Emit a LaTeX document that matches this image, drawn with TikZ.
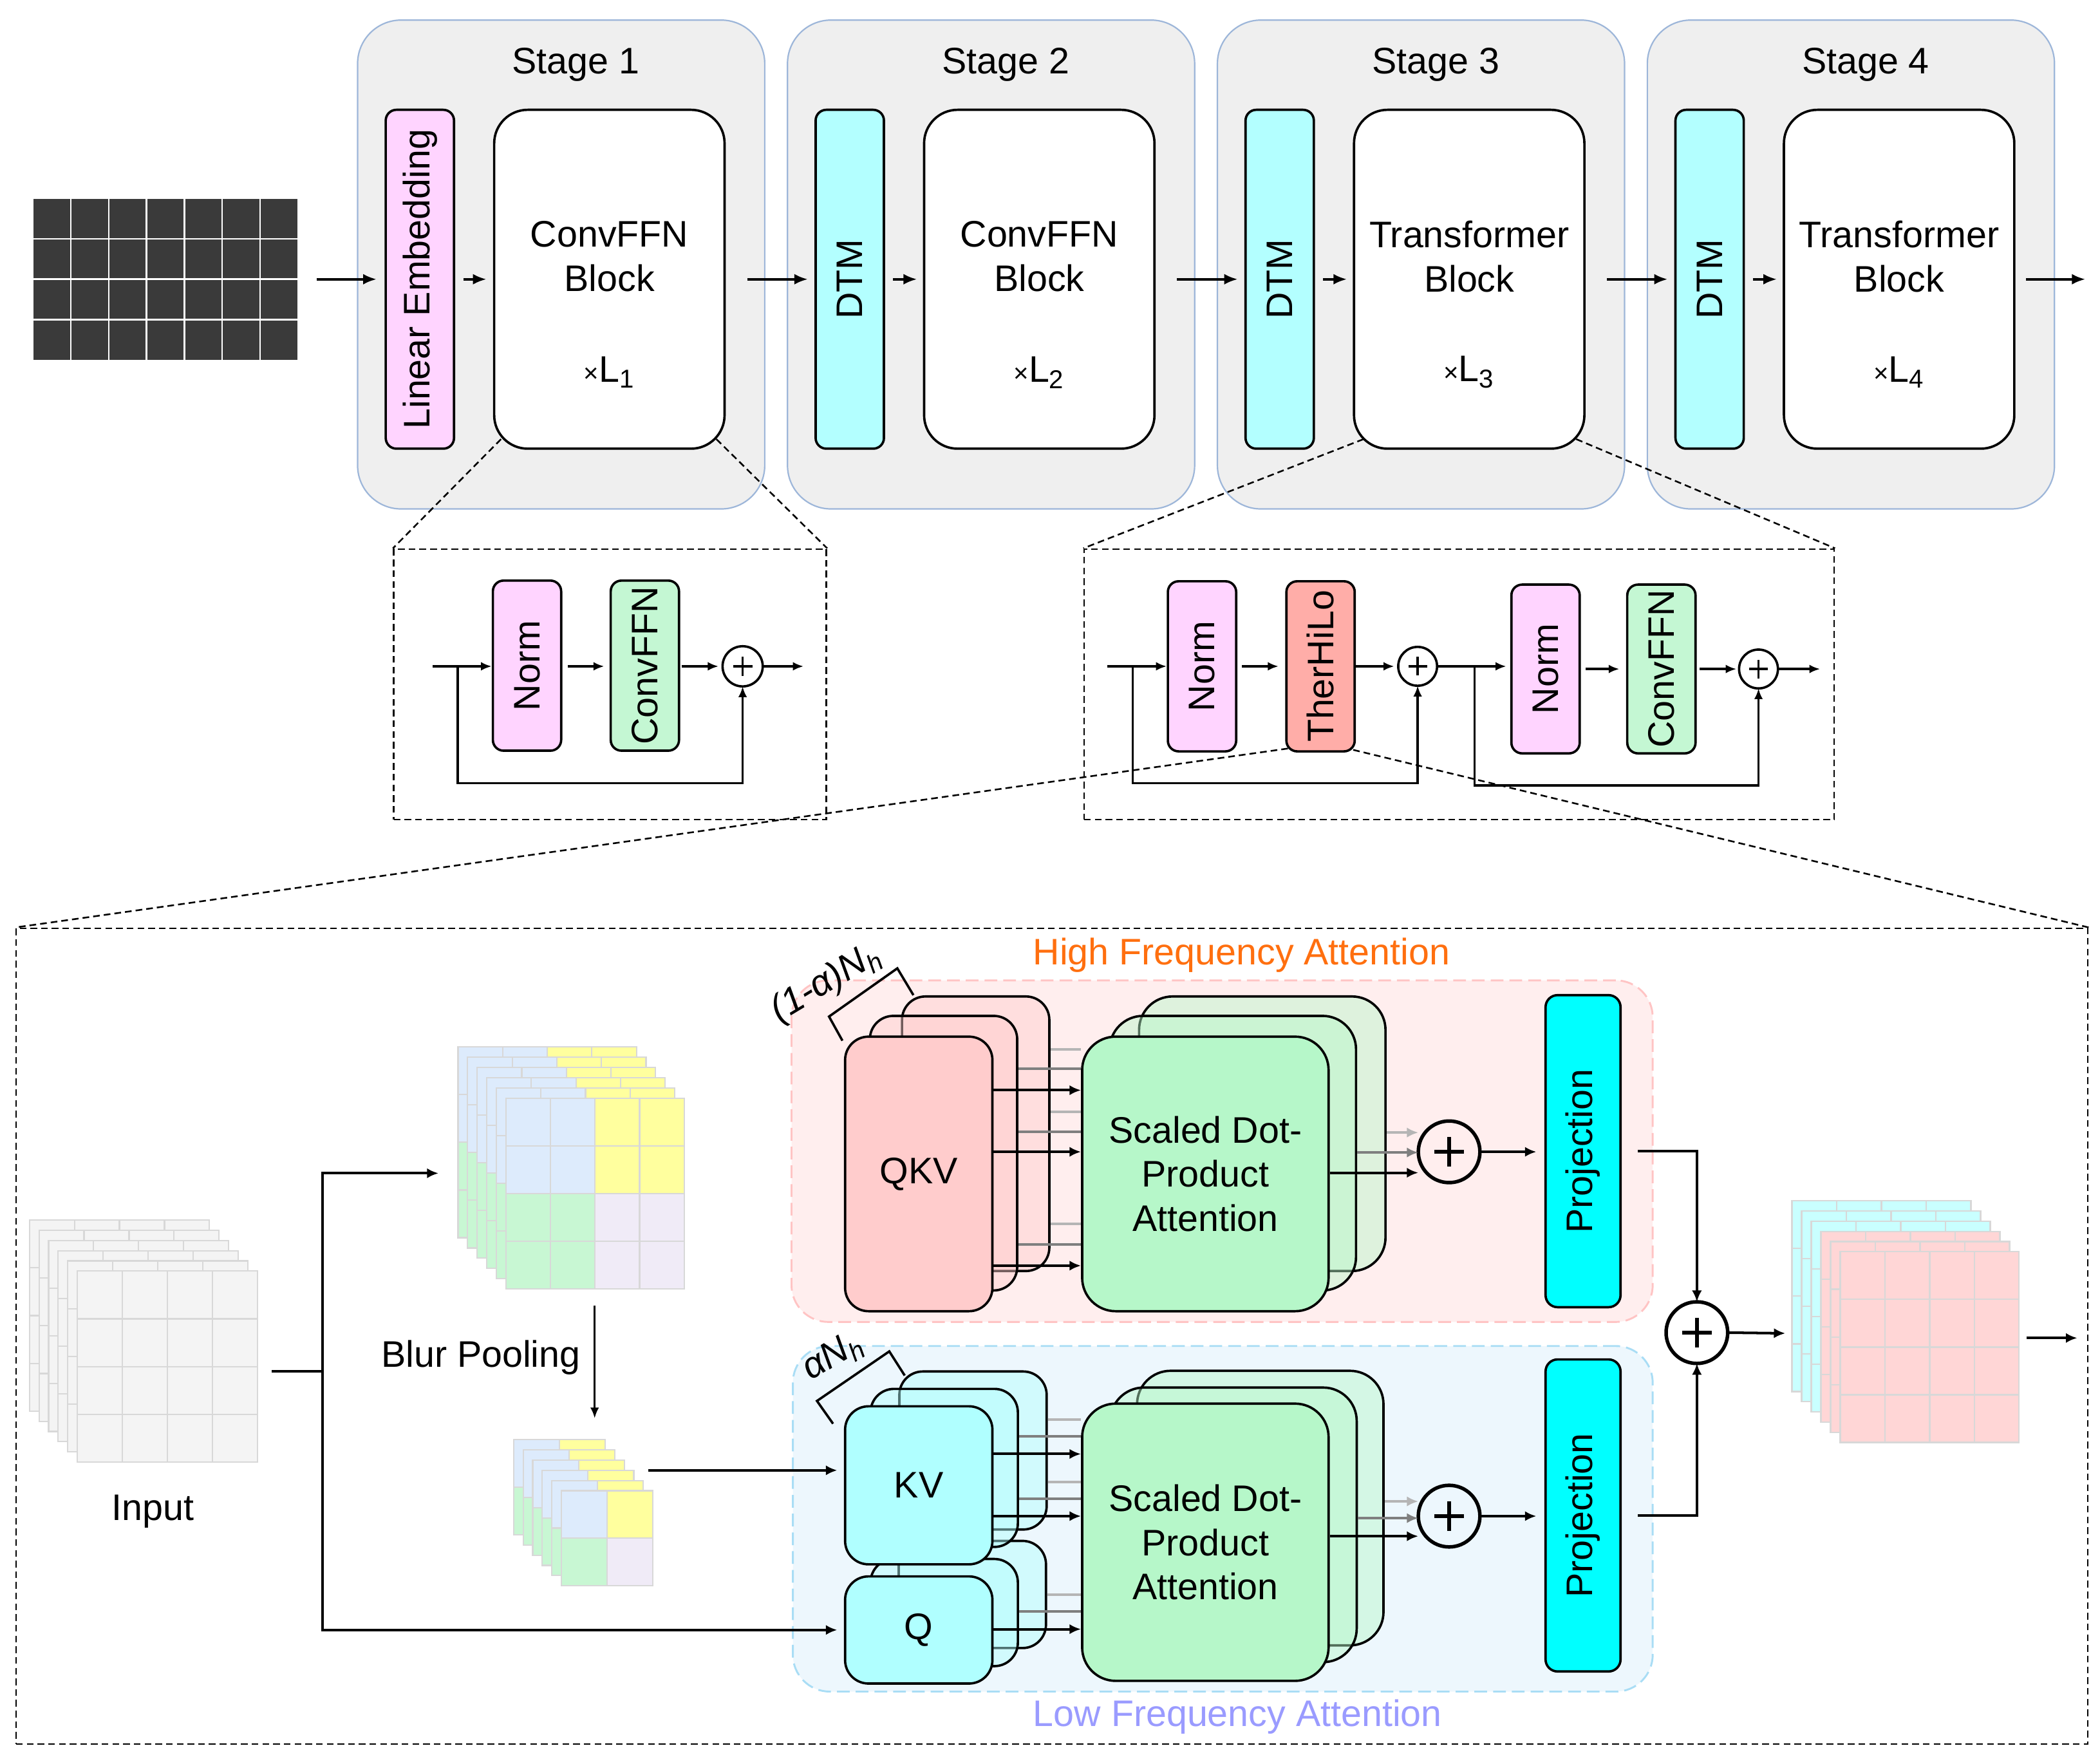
\documentclass[tikz,border=0pt]{standalone}
\usepackage{fontspec}
\setmainfont{Liberation Sans}
\usepackage{graphicx}
\usetikzlibrary{arrows.meta,calc}

\definecolor{imgdark}{HTML}{3A3A3A}
\definecolor{stagefill}{HTML}{EFEFEF}
\definecolor{stageline}{HTML}{9DB6D9}
\definecolor{pinkbox}{HTML}{FFD4FF}
\definecolor{dtmc}{HTML}{B3FFFF}
\definecolor{ffnc}{HTML}{C4F7D3}
\definecolor{hiloc}{HTML}{FFADA8}
\definecolor{hffill}{HTML}{FFEEEE}
\definecolor{hfline}{HTML}{FFC4C4}
\definecolor{lffill}{HTML}{EDF7FD}
\definecolor{lfline}{HTML}{A9DDF5}
\definecolor{hforange}{HTML}{FF6F0F}
\definecolor{lfblue}{HTML}{9A9BFF}
\definecolor{qkvc}{HTML}{FFCCCC}
\definecolor{kvc}{HTML}{B0FFFF}
\definecolor{sdc}{HTML}{B6F7C9}
\definecolor{projc}{HTML}{00FFFF}
\definecolor{gridline}{HTML}{D8D8D8}
\definecolor{inc}{HTML}{F4F4F4}
\definecolor{qTL}{HTML}{DDEBFC}
\definecolor{qTR}{HTML}{FFFF9E}
\definecolor{qBL}{HTML}{C8F7D3}
\definecolor{qBR}{HTML}{F0EBF7}
\definecolor{oc}{HTML}{C9FFFF}
\definecolor{op}{HTML}{FFD6D6}
\definecolor{gmidc}{HTML}{7F7F7F}
\definecolor{glightc}{HTML}{B5B5B5}

\tikzset{
  sz/.style 2 args={minimum width=#1*0.02cm, minimum height=#2*0.02cm},
  stagebox/.style={draw=stageline, fill=stagefill, rounded corners=0.65cm, line width=0.6pt, inner sep=0pt},
  thinbox/.style={draw=black, line width=1pt, rounded corners=0.16cm, inner sep=0pt},
  bigblock/.style={draw=black, line width=1pt, rounded corners=0.5cm, fill=white, inner sep=0pt},
  qbox/.style={draw=black, line width=1pt, rounded corners=0.35cm, inner sep=0pt},
  sbox/.style={draw=black, line width=1pt, rounded corners=0.5cm, inner sep=0pt, align=center},
  pbox/.style={draw=black, line width=1pt, rounded corners=0.18cm, inner sep=0pt, fill=projc},
  back/.style={fill opacity=0.45},
  arr/.style={-{Latex[length=0.2cm,width=0.16cm]}, line width=1pt},
  arrS/.style={-{Latex[length=0.16cm,width=0.13cm]}, line width=0.9pt},
  arrB/.style={-{Latex[length=0.17cm,width=0.15cm]}, line width=1.1pt},
  gmid/.style={line width=1.1pt, draw=gmidc},
  glight/.style={line width=1.1pt, draw=glightc},
  garrm/.style={-{Latex[length=0.17cm,width=0.15cm]}, line width=1.1pt, draw=gmidc, fill=gmidc},
  garrl/.style={-{Latex[length=0.17cm,width=0.15cm]}, line width=1.1pt, draw=glightc, fill=glightc},
  ln/.style={line width=1.1pt},
  zbox/.style={draw=black, line width=0.7pt, dash pattern=on 0.1cm off 0.06cm, inner sep=0pt},
  zoomline/.style={line width=0.7pt, dash pattern=on 0.1cm off 0.06cm},
  hfbox/.style={fill=hffill, draw=hfline, line width=0.8pt, dash pattern=on 0.19cm off 0.09cm, rounded corners=0.55cm, inner sep=0pt},
  lfbox/.style={fill=lffill, draw=lfline, line width=0.8pt, dash pattern=on 0.19cm off 0.09cm, rounded corners=0.55cm, inner sep=0pt},
  plusc/.style 2 args={circle, draw, line width=#2, minimum size=#1*0.02cm, inner sep=0pt, outer sep=0pt,
    path picture={\draw[line width=#2]
      ($(path picture bounding box.west)!0.26!(path picture bounding box.east)$) --
      ($(path picture bounding box.west)!0.74!(path picture bounding box.east)$)
      ($(path picture bounding box.north)!0.26!(path picture bounding box.south)$) --
      ($(path picture bounding box.north)!0.74!(path picture bounding box.south)$);}},
}

% one layer of a grid stack: x, y (top-left), cell w, cell h, n, TL, TR, BL, BR
\newcommand\glayer[9]{%
  \pgfmathtruncatemacro\ghalf{#5/2}%
  \foreach \gi in {1,...,#5}{\foreach \gj in {1,...,#5}{%
    \ifnum\gj>\ghalf\relax
      \ifnum\gi>\ghalf\relax\def\gc{#9}\else\def\gc{#8}\fi
    \else
      \ifnum\gi>\ghalf\relax\def\gc{#7}\else\def\gc{#6}\fi
    \fi
    \filldraw[fill=\gc, draw=gridline, line width=0.6pt]
      ({#1+(\gi-1)*#3},{#2+(\gj-1)*#4}) rectangle ++(#3,#4);
  }}%
}

\begin{document}
\begin{tikzpicture}[x=0.02cm, y=-0.02cm, font=\fontsize{15.7}{18.8}\selectfont]
\useasboundingbox (0,0) rectangle (1568,1317);

% ---------------- top row ----------------
\node[fill=imgdark, sz={197}{120}, inner sep=0pt] (img) at (123.5,208.5) {};
\foreach \k in {1,...,6}
  \draw[white, line width=0.7pt] ($(img.north west)!\k/7!(img.north east)$) -- ($(img.south west)!\k/7!(img.south east)$);
\foreach \k in {1,2,3}
  \draw[white, line width=0.7pt] ($(img.north west)!\k/4!(img.south west)$) -- ($(img.north east)!\k/4!(img.south east)$);

\foreach \s/\sx/\t/\n in {1/267/ConvFFN/1, 2/588/ConvFFN/2, 3/909/Transformer/3, 4/1230/Transformer/4} {
  \node[stagebox, sz={304}{365}] (st\s) at ({\sx+152},197.5) {};
  \node (stl\s) at ({\sx+163},48.5) {Stage \s};
  \node[bigblock, sz={172}{253}] (blk\s) at ({\sx+188},208.5) {};
  \node[align=center] (blt\s) at ({\sx+188},191.5) {\t\\Block};
  \node (bll\s) at ({\sx+188},278) {{\fontsize{11}{12}\selectfont ×}L\textsubscript{\n}};
}
\node[thinbox, fill=pinkbox, sz={51}{253}] (lin) at (313.5,208.5) {\rotatebox{90}{Linear Embedding}};
\foreach \s/\sx in {2/588,3/909,4/1230}{
  \node[thinbox, fill=dtmc, sz={51}{253}] (dtm\s) at ({\sx+46.5},208.5) {\rotatebox{90}{DTM}};
}

\draw[arr, shorten <=0.28cm, shorten >=0.12cm] (img.east) -- (lin.west);
\draw[arr, shorten <=0.12cm, shorten >=0.1cm] (lin.east) -- (blk1.west);
\foreach \s in {2,3,4}{
  \draw[arr, shorten <=0.12cm, shorten >=0.09cm] (dtm\s.east) -- (blk\s.west);
}
\draw[arr, shorten <=0.32cm, shorten >=0.1cm] (blk1.east) -- (dtm2.west);
\draw[arr, shorten <=0.32cm, shorten >=0.1cm] (blk2.east) -- (dtm3.west);
\draw[arr, shorten <=0.32cm, shorten >=0.1cm] (blk3.east) -- (dtm4.west);
\coordinate (outTop) at (1557,208.5);
\draw[arr, shorten <=0.16cm] (blk4.east) -- (outTop);

% ---------------- zoom box 1 (ConvFFN block) ----------------
\node[zbox, sz={323}{202}] (zb1) at (455.5,511) {};
\draw[zoomline] ([shift={(6,-8)}]blk1.south west) -- (zb1.north west);
\draw[zoomline] ([shift={(-7,-8)}]blk1.south east) -- (zb1.north east);
\node[thinbox, fill=pinkbox, sz={51}{127}] (n1) at (393.5,497) {\rotatebox{90}{Norm}};
\node[thinbox, fill=ffnc, sz={51}{127}] (c1) at (481.5,497) {\rotatebox{90}{ConvFFN}};
\node[plusc={30}{1pt}] (p1) at (554.5,497.5) {};
\coordinate (i1) at (323,497.5);
\coordinate (br1) at (341.7,497.5);
\coordinate (o1) at (600,497.5);
\draw[arrS] (i1) -- (i1 -| n1.west);
\draw[arrS, shorten <=0.08cm, shorten >=0.08cm] (n1.east |- i1) -- (c1.west |- i1);
\draw[arrS, shorten <=0.02cm, shorten >=0.06cm] (c1.east |- i1) -- (p1.west);
\draw[arrS] (p1.east) -- (o1);
\draw[arrS] (br1) -- ++(0,87.3) -| (p1.south);

% ---------------- zoom box 2 (Transformer block) ----------------
\node[zbox, sz={560}{202}] (zb2) at (1089.5,511) {};
\draw[zoomline] ([shift={(8,-8)}]blk3.south west) -- (zb2.north west);
\draw[zoomline] ([shift={(-7,-8)}]blk3.south east) -- (zb2.north east);
\node[thinbox, fill=pinkbox, sz={51}{127}] (n2) at (897.5,497.5) {\rotatebox{90}{Norm}};
\node[thinbox, fill=hiloc, sz={51}{127}] (th) at (986,497.5) {\rotatebox{90}{TherHiLo}};
\node[plusc={29}{1pt}] (p2) at (1058.5,497.5) {};
\node[thinbox, fill=pinkbox, sz={51}{126}] (n3) at (1154,499.5) {\rotatebox{90}{Norm}};
\node[thinbox, fill=ffnc, sz={51}{126}] (c3) at (1240.5,499.5) {\rotatebox{90}{ConvFFN}};
\node[plusc={29}{1pt}] (p3) at (1313,499.5) {};
\coordinate (i2) at (826.6,497.5);
\coordinate (br2) at (845.7,497.5);
\coordinate (br3) at (1101,497.5);
\coordinate (o2) at (1359,499.5);
\draw[arrS] (i2) -- (i2 -| n2.west);
\draw[arrS, shorten <=0.07cm, shorten >=0.1cm] (n2.east) -- (th.west);
\draw[arrS, shorten <=0.0cm, shorten >=0.06cm] (th.east) -- (p2.west);
\draw[arrS, shorten >=0.06cm] (p2.east) -- (p2.east -| n3.west);
\draw[arrS, shorten <=0.07cm, shorten >=0.1cm] (n3.east) -- (c3.west);
\draw[arrS, shorten <=0.04cm, shorten >=0.04cm] (c3.east) -- (p3.west);
\draw[arrS] (p3.east) -- (o2);
\draw[arrS] (br2) -- ++(0,87.3) -| (p2.south);
\draw[arrS] (br3) -- ++(0,88.9) -| (p3.south);

% ---------------- big zoom box (TherHiLo) ----------------
\node[zbox, line width=0.6pt, sz={1547}{609}] (zb3) at (785.5,997.5) {};
\draw[zoomline] ([shift={(2,-3)}]th.south west) -- (zb3.north west);
\draw[zoomline] ([shift={(-2,-2)}]th.south east) -- (zb3.north east);

% regions
\node[hfbox, sz={643}{255}] (hf) at (912.5,859.5) {};
\node[lfbox, sz={642}{258}] (lf) at (913,1134) {};
\node[text=hforange] (hft) at (927,713) {High Frequency Attention};
\node[text=lfblue] (lft) at (924,1282) {Low Frequency Attention};

% input stack
\foreach \k in {0,...,5}{
  \glayer{22+\k*7.14}{911+\k*7.6}{33.6}{35.65}{4}{inc}{inc}{inc}{inc}
}
\node (inl) at (114,1128.5) {Input};
% pooled-window stack
\foreach \k in {0,...,5}{
  \glayer{342+\k*7.14}{781.7+\k*7.66}{33.3}{35.6}{4}{qTL}{qTR}{qBL}{qBR}
}
% blurred small stack
\foreach \k in {0,...,5}{
  \glayer{383.6+\k*7.08}{1075+\k*7.6}{34.2}{35.5}{2}{qTL}{qTR}{qBL}{qBR}
}
% output stack
\foreach \k/\c in {0/oc,1/oc,2/oc,3/op,4/op,5/op}{
  \glayer{1338+\k*7.2}{896.6+\k*7.6}{33.4}{35.6}{4}{\c}{\c}{\c}{\c}
}

% HF heads
\node[qbox, back, fill=qkvc, sz={110}{205}] (qkvB) at (728.5,846.5) {};
\node[qbox, back, fill=qkvc, sz={110}{205}] (qkvM) at (704.5,861) {};
\node[qbox, fill=qkvc, sz={110}{205}] (qkvF) at (686,876.5) {QKV};
\node[sbox, back, fill=sdc, sz={184}{205}] (sdB) at (942.5,846.5) {};
\node[sbox, back, fill=sdc, sz={184}{205}] (sdM) at (920.5,861) {};
\node[sbox, fill=sdc, sz={184}{205}] (sdF) at (900,876.5) {Scaled Dot-\\Product\\Attention};

% LF heads
\node[qbox, back, fill=kvc, sz={110}{80}] (qB) at (726,1190.5) {};
\node[qbox, back, fill=kvc, sz={110}{80}] (qM) at (705,1204) {};
\node[qbox, back, fill=kvc, sz={110}{118}] (kvB) at (726.5,1083) {};
\node[qbox, back, fill=kvc, sz={110}{118}] (kvM) at (705,1096) {};
\node[qbox, fill=kvc, sz={110}{118}] (kvF) at (686,1109) {KV};
\node[qbox, fill=kvc, sz={110}{80}] (qF) at (686,1217) {Q};
\node[sbox, back, fill=sdc, sz={184}{205}] (sdB2) at (941,1126) {};
\node[sbox, back, fill=sdc, sz={184}{205}] (sdM2) at (921,1138.5) {};
\node[sbox, fill=sdc, sz={184}{207}] (sdF2) at (900,1151.5) {Scaled Dot-\\Product\\Attention};

% projections and sums
\node[pbox, sz={56}{233}] (prH) at (1182,859.5) {\rotatebox{90}{Projection}};
\node[pbox, sz={56}{233}] (prL) at (1182,1131.5) {\rotatebox{90}{Projection}};
\node[plusc={46}{1.5pt}] (pH) at (1082,860) {};
\node[plusc={46}{1.5pt}] (pL) at (1082,1132) {};
\node[plusc={46}{1.5pt}] (pO) at (1267,995) {};

% head connectors HF
\foreach \y in {783.5,830,914}{\draw[glight] (qkvB.east |- 0,\y) -- (sdF.west |- 0,\y);}
\foreach \y in {798,845,929}{\draw[gmid] (qkvM.east |- 0,\y) -- (sdF.west |- 0,\y);}
\foreach \y in {814,860,945}{\draw[arrB] (qkvF.east |- 0,\y) -- (sdF.west |- 0,\y);}
\draw[garrl] (sdB.east |- 0,845.6) -- (pH.west |- 0,845.6);
\draw[garrm] (sdM.east |- 0,860.5) -- (pH.west |- 0,860.5);
\draw[arrB] (sdF.east |- 0,875.6) -- (pH.west |- 0,875.6);
\draw[arrB, shorten <=0.02cm, shorten >=0.12cm] (pH.east) -- (prH.west |- pH.east);

% head connectors LF
\foreach \y in {1060,1106.5}{\draw[glight] (kvB.east |- 0,\y) -- (sdF2.west |- 0,\y);}
\foreach \y in {1072.5,1119}{\draw[gmid] (kvM.east |- 0,\y) -- (sdF2.west |- 0,\y);}
\foreach \y in {1085.6,1132}{\draw[arrB] (kvF.east |- 0,\y) -- (sdF2.west |- 0,\y);}
\draw[glight] (qB.east |- 0,1190.7) -- (sdF2.west |- 0,1190.7);
\draw[gmid] (qM.east |- 0,1203) -- (sdF2.west |- 0,1203);
\draw[arrB] (qF.east |- 0,1216.4) -- (sdF2.west |- 0,1216.4);
\draw[garrl] (sdB2.east |- 0,1121) -- (pL.west |- 0,1121);
\draw[garrm] (sdM2.east |- 0,1133.5) -- (pL.west |- 0,1133.5);
\draw[arrB] (sdF2.east |- 0,1147) -- (pL.west |- 0,1147);
\draw[arrB, shorten <=0.02cm, shorten >=0.12cm] (pL.east) -- (prL.west |- pL.east);

% brackets
\draw[line width=1pt] (629,777) -- (619,759) -- (670,723) -- (682,743);
\node[rotate=31, font=\fontsize{15.7}{18.8}\selectfont\itshape] (hlab) at (617,734) {(1-α)N\textsubscript{h}};
\draw[line width=1pt] (622,1063) -- (610,1046) -- (664,1009) -- (675.5,1027);
\node[rotate=31, font=\fontsize{15.7}{18.8}\selectfont\itshape] (llab) at (622,1013) {αN\textsubscript{h}};

% input routing
\coordinate (inR) at (203,1024);
\coordinate (spl) at (241,1024);
\coordinate (poolL) at (327.4,876);
\coordinate (bpA) at (444,974.7);
\coordinate (bpB) at (444,1059);
\coordinate (smR) at (484,1097.8);
\draw[ln] (inR) -- (spl);
\draw[arrB] (spl) |- (poolL);
\draw[arrB, shorten >=0.1cm] (spl) |- (qF.west |- 0,1217);
\draw[arrS] (bpA) -- (bpB);
\node (bpt) at (359,1013.5) {Blur Pooling};
\draw[arrB, shorten >=0.1cm] (smR) -- (kvF.west |- smR);

% merge and output
\draw[arrB] ([xshift=0.24cm]prH.east) -| (pO.north);
\draw[arrB] ([xshift=0.24cm]prL.east) -| (pO.south);
\coordinate (outstk) at (1333,995.5);
\coordinate (outR) at (1513,999);
\coordinate (fin) at (1551,999);
\draw[arrB] (pO.east) -- (outstk);
\draw[arrB] (outR) -- (fin);
\end{tikzpicture}
\end{document}
